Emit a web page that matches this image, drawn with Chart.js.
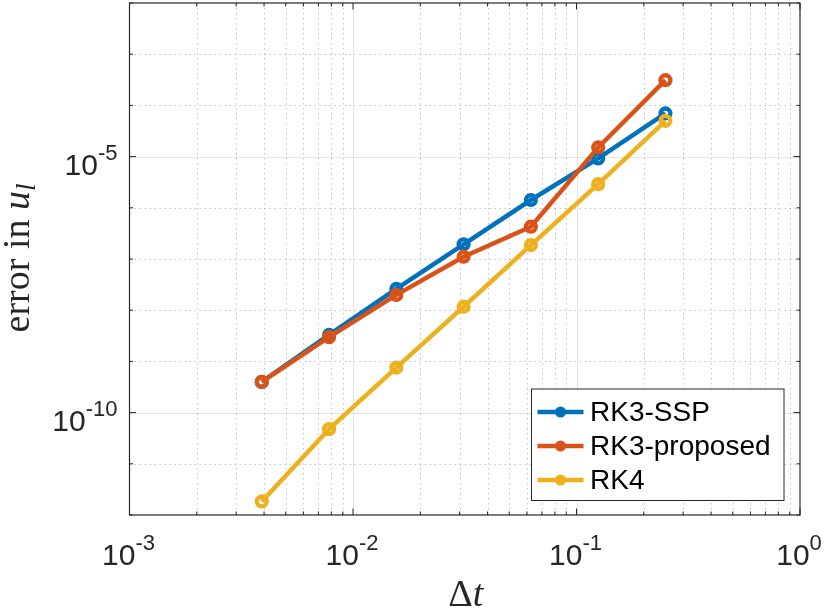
<!DOCTYPE html>
<html>
<head>
<meta charset="utf-8">
<script src="https://cdn.jsdelivr.net/npm/chart.js@4.4.1/dist/chart.umd.min.js"></script>
<style>
  html, body { margin: 0; padding: 0; background: #fff; }
  #wrap { width: 830px; height: 612px; }
</style>
</head>
<body>
<div id="wrap"><canvas id="errChart" width="830" height="612"></canvas></div>
<script>
// ── DATA ────────────────────────────────────────────────────────────
const dtValues    = [0.00390625, 0.0078125, 0.015625, 0.03125, 0.0625, 0.125, 0.25];
const rk3ssp      = [3.98e-10, 3.29e-9, 2.60e-8, 1.94e-7, 1.42e-6, 9.2e-6, 6.97e-5];
const rk3proposed = [3.98e-10, 2.97e-9, 1.99e-8, 1.11e-7, 4.27e-7, 1.51e-5, 3.11e-4];
const rk4         = [1.84e-12, 4.75e-11, 7.57e-10, 1.17e-8, 1.87e-7, 2.90e-6, 5.0e-5];

const seriesNames  = ['RK3-SSP', 'RK3-proposed', 'RK4'];
const seriesColors = ['#0072BD', '#D95319', '#EDB120'];

// tick exponents
const xDecades       = [-3, -2, -1, 0];
const yDecades       = [-12, -11, -10, -9, -8, -7, -6, -5, -4, -3, -2];
const yLabelExps     = [-10, -5];
const minorMantissas = [2, 3, 4, 5, 6, 7, 8, 9];

const AXIS_COLOR = '#262626';
const SANS  = '"Liberation Sans", Arial, sans-serif';
const SERIF = '"Liberation Serif", "Times New Roman", serif';

function toPoints(ys) {
  return dtValues.map((x, i) => ({ x: x, y: ys[i] }));
}

// later series are drawn on top, like MATLAB
function makeSet(label, ys, color, order) {
  return {
    label: label,
    data: toPoints(ys),
    order: order,
    showLine: true,
    borderColor: color,
    backgroundColor: color,
    borderWidth: 4.5,
    pointRadius: 4.9,
    pointHoverRadius: 4.9,
    pointBorderWidth: 4.4,
    pointBackgroundColor: 'rgba(0,0,0,0)',
    pointBorderColor: color
  };
}

// ── MATLAB-LIKE AXES: grid, box, inner ticks, power labels, legend ──
function hLine(ctx, x1, y1, x2, y2) {
  ctx.beginPath();
  ctx.moveTo(x1, y1);
  ctx.lineTo(x2, y2);
  ctx.stroke();
}

function drawRich(ctx, parts, x, y) {
  let cx = x;
  parts.forEach(p => {
    ctx.font = p.font;
    ctx.fillText(p.text, cx, y + (p.dy || 0));
    cx += ctx.measureText(p.text).width;
  });
}

function richWidth(ctx, parts) {
  return parts.reduce((w, p) => { ctx.font = p.font; return w + ctx.measureText(p.text).width; }, 0);
}

function powParts(exp) {
  return [
    { text: '10', font: '30px ' + SANS },
    { text: String(exp), font: '22px ' + SANS, dy: -15 }
  ];
}

const matlabAxes = {
  id: 'matlabAxes',
  beforeDatasetsDraw(chart) {
    const { ctx, chartArea: a, scales: { x, y } } = chart;
    ctx.save();
    ctx.lineWidth = 1;

    // minor dotted grid
    ctx.strokeStyle = 'rgba(38,38,38,0.28)';
    ctx.setLineDash([1.5, 3.5]);
    xDecades.slice(0, -1).forEach(d => {
      minorMantissas.forEach(m => {
        const px = Math.round(x.getPixelForValue(m * Math.pow(10, d))) + 0.5;
        hLine(ctx, px, a.top, px, a.bottom);
      });
    });
    yDecades.slice(1, -1).forEach(d => {
      if (yLabelExps.includes(d)) return;
      const py = Math.round(y.getPixelForValue(Math.pow(10, d))) + 0.5;
      hLine(ctx, a.left, py, a.right, py);
    });

    // major solid grid
    ctx.setLineDash([]);
    ctx.strokeStyle = 'rgba(38,38,38,0.13)';
    xDecades.slice(1, -1).forEach(d => {
      const px = Math.round(x.getPixelForValue(Math.pow(10, d))) + 0.5;
      hLine(ctx, px, a.top, px, a.bottom);
    });
    yLabelExps.forEach(d => {
      const py = Math.round(y.getPixelForValue(Math.pow(10, d))) + 0.5;
      hLine(ctx, a.left, py, a.right, py);
    });
    ctx.restore();
  },

  afterDatasetsDraw(chart) {
    const { ctx, chartArea: a, scales: { x, y } } = chart;
    ctx.save();
    ctx.strokeStyle = AXIS_COLOR;
    ctx.fillStyle = AXIS_COLOR;
    ctx.lineWidth = 1.2;
    ctx.strokeRect(a.left, a.top, a.right - a.left, a.bottom - a.top);

    // inner ticks
    ctx.lineWidth = 1;
    const major = 6.5, minor = 3.5;
    xDecades.forEach((d, i) => {
      const px = x.getPixelForValue(Math.pow(10, d));
      hLine(ctx, px, a.bottom, px, a.bottom - major);
      hLine(ctx, px, a.top, px, a.top + major);
      if (i < xDecades.length - 1) {
        minorMantissas.forEach(m => {
          const mx = x.getPixelForValue(m * Math.pow(10, d));
          hLine(ctx, mx, a.bottom, mx, a.bottom - minor);
          hLine(ctx, mx, a.top, mx, a.top + minor);
        });
      }
    });
    yDecades.forEach(d => {
      const py = y.getPixelForValue(Math.pow(10, d));
      const len = yLabelExps.includes(d) ? major : minor;
      hLine(ctx, a.left, py, a.left + len, py);
      hLine(ctx, a.right, py, a.right - len, py);
    });

    // tick labels
    ctx.textBaseline = 'alphabetic';
    ctx.textAlign = 'left';
    xDecades.forEach(d => {
      const px = x.getPixelForValue(Math.pow(10, d));
      const parts = powParts(d);
      const w = richWidth(ctx, parts);
      drawRich(ctx, parts, px - w / 2 - 1, a.bottom + 50);
    });
    yLabelExps.forEach(d => {
      const py = y.getPixelForValue(Math.pow(10, d));
      const parts = powParts(d);
      const w = richWidth(ctx, parts);
      drawRich(ctx, parts, a.left - 12 - w, py + 18);
    });

    // axis titles
    const xt = [
      { text: '\u0394', font: '38px ' + SERIF },
      { text: 't', font: 'italic 38px ' + SERIF }
    ];
    const xw = richWidth(ctx, xt);
    drawRich(ctx, xt, (a.left + a.right) / 2 + 1 - xw / 2, 606);

    const yt = [
      { text: 'error in ', font: '38px ' + SERIF },
      { text: 'u', font: 'italic 38px ' + SERIF },
      { text: 'l', font: 'italic 27px ' + SERIF, dy: 6 }
    ];
    const yw = richWidth(ctx, yt);
    ctx.save();
    ctx.translate(28.5, (a.top + a.bottom) / 2 - 1);
    ctx.rotate(-Math.PI / 2);
    drawRich(ctx, yt, -yw / 2, 0);
    ctx.restore();

    // legend
    const box = { left: 531.5, top: 389, right: 784, bottom: 500.5 };
    ctx.fillStyle = '#fff';
    ctx.fillRect(box.left, box.top, box.right - box.left, box.bottom - box.top);
    ctx.strokeStyle = AXIS_COLOR;
    ctx.lineWidth = 1;
    ctx.strokeRect(box.left, box.top, box.right - box.left, box.bottom - box.top);
    const rows = [412, 446, 480];
    chart.data.datasets.forEach((ds, i) => {
      const ry = rows[i];
      ctx.strokeStyle = ds.borderColor;
      ctx.lineWidth = 4.5;
      hLine(ctx, 537.5, ry, 583.5, ry);
      ctx.lineWidth = 3.8;
      ctx.beginPath();
      ctx.arc(560.5, ry, 3.6, 0, Math.PI * 2);
      ctx.stroke();
      ctx.fillStyle = '#000';
      ctx.font = '28px ' + SANS;
      ctx.textBaseline = 'middle';
      ctx.fillText(ds.label, 590, ry + 1);
    });
    ctx.restore();
  }
};

// ── CHART ───────────────────────────────────────────────────────────
new Chart(document.getElementById('errChart'), {
  type: 'scatter',
  data: {
    datasets: [
      makeSet(seriesNames[0], rk3ssp, seriesColors[0], 2),
      makeSet(seriesNames[1], rk3proposed, seriesColors[1], 1),
      makeSet(seriesNames[2], rk4, seriesColors[2], 0)
    ]
  },
  options: {
    responsive: false,
    animation: false,
    devicePixelRatio: 1,
    layout: { autoPadding: false, padding: { left: 0, top: 3, right: 30, bottom: 0 } },
    plugins: {
      legend: { display: false },
      tooltip: { enabled: false }
    },
    scales: {
      x: {
        type: 'logarithmic',
        min: 1e-3,
        max: 1,
        grid: { display: false },
        border: { display: false },
        ticks: { display: false },
        afterFit(scale) { scale.height = 97; }
      },
      y: {
        type: 'logarithmic',
        min: 1e-12,
        max: 1e-2,
        grid: { display: false },
        border: { display: false },
        ticks: { display: false },
        afterFit(scale) { scale.width = 129.5; }
      }
    }
  },
  plugins: [matlabAxes]
});
</script>
</body>
</html>
